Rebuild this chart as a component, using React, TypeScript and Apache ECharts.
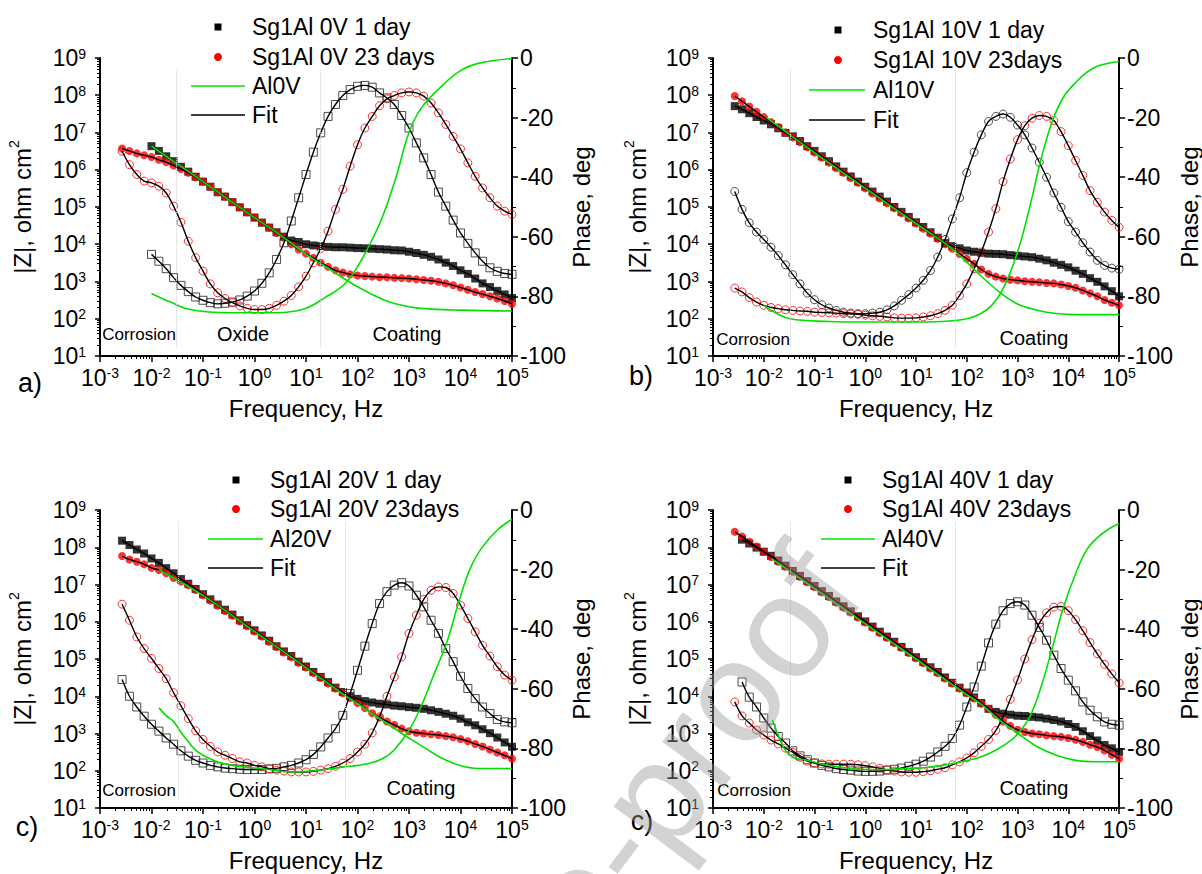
import React, { useEffect, useRef } from "react";
import * as echarts from "echarts";

// ---------------- DATA ----------------
// measured frequency grid (Hz), 7 points per decade
const FREQ = [0.00268, 0.00373, 0.00518, 0.0072, 0.01, 0.0139, 0.0193, 0.0268, 0.0373, 0.0518, 0.072,
  0.1, 0.139, 0.193, 0.268, 0.373, 0.518, 0.72, 1, 1.39, 1.93, 2.68, 3.73, 5.18, 7.2,
  10, 13.9, 19.3, 26.8, 37.3, 51.8, 72, 100, 139, 193, 268, 373, 518, 720,
  1000, 1390, 1930, 2680, 3730, 5180, 7200, 10000, 13900, 19300, 26800, 37300, 51800, 72000, 100000];

// panel a (0V) – series end at 1e5 Hz, aligned to the end of FREQ
const A_Z_1D = [4.3e6, 3.2e6, 2.3e6, 1.7e6, 1.2e6, 8.9e5, 6.5e5, 4.8e5, 3.5e5, 2.5e5, 1.9e5, 1.35e5, 9.8e4, 7.2e4, 5.2e4, 3.8e4, 2.8e4, 2.1e4, 1.6e4, 1.26e4, 1.15e4, 1.0e4, 9.3e3, 8.9e3, 8.5e3, 8.3e3, 8.3e3, 8.1e3, 7.9e3, 7.8e3, 7.6e3, 7.4e3, 7.2e3, 6.9e3, 6.8e3, 6.3e3, 5.8e3, 5.2e3, 4.6e3, 3.9e3, 3.2e3, 2.6e3, 2.0e3, 1.6e3, 1.2e3, 890, 710, 560, 450, 360];
const A_Z_23D = [3.7e6, 3.2e6, 2.75e6, 2.45e6, 2.2e6, 1.85e6, 1.6e6, 1.3e6, 1.05e6, 8.3e5, 6.3e5, 4.8e5, 3.5e5, 2.5e5, 1.9e5, 1.35e5, 9.8e4, 7.2e4, 5.2e4, 3.8e4, 2.8e4, 2.0e4, 1.5e4, 1.0e4, 7.2e3, 5.6e3, 4.3e3, 3.2e3, 2.5e3, 2.0e3, 1.75e3, 1.55e3, 1.45e3, 1.4e3, 1.35e3, 1.3e3, 1.3e3, 1.25e3, 1.23e3, 1.2e3, 1.15e3, 1.1e3, 1.05e3, 980, 890, 790, 690, 600, 520, 460, 400, 350, 300, 250];
const A_PH_1D = [-65.9, -68.2, -70.7, -73.7, -76.3, -78.4, -80.2, -81.3, -82.1, -82.5, -82.3, -81.9, -81.2, -79.9, -78.2, -75.6, -72.1, -67.6, -62.0, -54.7, -46.9, -39.1, -31.6, -25.1, -19.6, -15.6, -12.6, -10.6, -9.5, -9.2, -9.8, -11.7, -13.4, -15.6, -19.3, -23.5, -28.5, -33.5, -39.1, -45.0, -49.7, -54.4, -58.7, -62.2, -65.4, -68.2, -70.4, -71.6, -72.3, -72.6];
const A_PH_23D = [-31.3, -35.8, -39.1, -41.3, -41.9, -43.0, -45.3, -49.7, -55.1, -61.5, -67.0, -71.5, -75.8, -78.8, -80.7, -82.1, -83.2, -84.0, -84.4, -84.4, -84.0, -83.0, -81.6, -79.7, -76.8, -73.2, -68.7, -64.0, -58.1, -50.8, -44.1, -36.3, -29.1, -23.5, -19.6, -16.0, -13.7, -12.6, -11.7, -11.4, -11.7, -12.8, -15.1, -18.4, -22.3, -26.3, -30.5, -35.2, -39.7, -43.6, -46.9, -49.7, -51.4, -52.5];
const A_AL_Z_F = [0.01, 0.1, 1, 3.5, 10, 23, 100, 310, 730, 1700, 10000, 100000];
const A_AL_Z = [4.3e6, 4.8e5, 5.2e4, 1.6e4, 5.4e3, 2.6e3, 720, 330, 230, 190, 170, 162];
const A_AL_PH_F = [0.01, 0.024, 0.056, 0.32, 1.8, 4.2, 10, 23, 55, 100, 180, 310, 560, 1000, 1700, 4000, 9500, 22000, 100000];
const A_AL_PH = [-79, -82, -84.4, -85.5, -85.5, -85.3, -84, -80.5, -76, -70, -62, -53, -40, -25, -17, -10, -4.5, -1.8, -0.2];
const A_BOUNDS = [0.03, 19];

// panel b (10V)
const B_Z_1D = [5.1e7, 4.2e7, 3.3e7, 2.6e7, 2.1e7, 1.66e7, 1.3e7, 9.8e6, 7.9e6, 5.9e6, 4.3e6, 3.2e6, 2.3e6, 1.7e6, 1.23e6, 8.9e5, 6.6e5, 4.8e5, 3.5e5, 2.6e5, 1.9e5, 1.4e5, 1.0e5, 7.4e4, 5.4e4, 3.9e4, 2.9e4, 2.1e4, 1.5e4, 1.07e4, 8.9e3, 7.8e3, 6.8e3, 6.3e3, 5.9e3, 5.6e3, 5.5e3, 5.4e3, 5.1e3, 4.9e3, 4.7e3, 4.5e3, 4.1e3, 3.7e3, 3.2e3, 2.8e3, 2.4e3, 1.95e3, 1.6e3, 1.23e3, 980, 740, 550, 400];
const B_Z_23D = [9.5e7, 6.9e7, 5.0e7, 3.6e7, 2.6e7, 1.9e7, 1.4e7, 1.0e7, 7.4e6, 5.5e6, 4.0e6, 2.9e6, 2.1e6, 1.55e6, 1.1e6, 8.3e5, 6.0e5, 4.5e5, 3.2e5, 2.3e5, 1.7e5, 1.26e5, 9.3e4, 6.8e4, 4.9e4, 3.6e4, 2.6e4, 1.95e4, 1.4e4, 1.0e4, 7.6e3, 5.5e3, 4.1e3, 3.0e3, 2.1e3, 1.6e3, 1.35e3, 1.2e3, 1.12e3, 1.07e3, 1.02e3, 980, 950, 910, 890, 830, 760, 680, 575, 480, 400, 320, 270, 230];
const B_PH_1D = [-44.8, -50.8, -55.3, -58.4, -60.9, -63.5, -66.3, -69.4, -72.7, -75.8, -78.9, -81.1, -82.8, -83.9, -84.7, -85.3, -85.6, -85.8, -85.8, -85.6, -85.3, -84.5, -83.2, -81.3, -79.4, -77.2, -74.6, -71.3, -66.8, -60.9, -54.0, -46.9, -38.5, -31.6, -25.8, -21.3, -19.6, -18.8, -19.9, -22.5, -25.8, -30.2, -35.0, -40.0, -45.3, -50.1, -54.9, -58.4, -62.0, -65.1, -67.9, -69.6, -70.5, -70.9];
const B_PH_23D = [-77.2, -78.5, -80.4, -81.9, -83.0, -83.7, -84.1, -84.5, -84.7, -84.9, -85.0, -85.3, -85.4, -85.5, -85.6, -85.8, -85.9, -86.0, -86.3, -86.5, -86.7, -86.9, -87.2, -87.3, -87.3, -87.2, -86.9, -86.5, -85.8, -84.7, -83.0, -79.7, -75.8, -70.7, -65.1, -58.4, -50.6, -41.5, -33.9, -27.4, -22.7, -20.2, -19.3, -19.6, -21.0, -24.7, -29.4, -34.4, -39.4, -44.5, -48.4, -51.7, -54.5, -56.8];
const B_AL_Z_F = [0.011, 0.1, 1, 10, 50, 100, 186, 440, 1000, 2450, 5800, 14000, 100000];
const B_AL_Z = [2.6e7, 2.9e6, 3.2e5, 3.6e4, 7.8e3, 3.3e3, 1.45e3, 520, 250, 170, 138, 129, 129];
const B_AL_PH_F = [0.01, 0.033, 0.19, 1, 5.9, 33, 100, 186, 310, 520, 1000, 1740, 2900, 4900, 8100, 14000, 23000, 39000, 65000, 100000];
const B_AL_PH = [-83, -87.5, -88.4, -88.6, -88.6, -88.4, -87.5, -85.8, -83, -77.4, -65.1, -50, -34, -21, -13, -8.2, -4.8, -2.6, -1.7, -1.2];
const B_BOUNDS = [0.033, 58];

// panel c (20V)
const C_Z_1D = [1.5e8, 1.15e8, 8.7e7, 6.8e7, 5.0e7, 3.8e7, 2.75e7, 2.0e7, 1.4e7, 1.05e7, 7.6e6, 5.5e6, 4.0e6, 2.9e6, 2.1e6, 1.55e6, 1.1e6, 8.1e5, 5.9e5, 4.3e5, 3.1e5, 2.2e5, 1.6e5, 1.2e5, 8.5e4, 6.3e4, 4.5e4, 3.3e4, 2.4e4, 1.7e4, 1.3e4, 1.0e4, 8.5e3, 7.4e3, 6.8e3, 6.3e3, 6.0e3, 5.6e3, 5.4e3, 5.1e3, 4.9e3, 4.6e3, 4.2e3, 3.8e3, 3.4e3, 3.0e3, 2.5e3, 2.0e3, 1.66e3, 1.3e3, 1.02e3, 780, 575, 440];
const C_Z_23D = [5.8e7, 4.7e7, 4.1e7, 3.5e7, 2.8e7, 2.45e7, 2.0e7, 1.5e7, 1.2e7, 9.5e6, 7.1e6, 5.1e6, 3.7e6, 2.7e6, 1.95e6, 1.45e6, 1.02e6, 7.6e5, 5.5e5, 4.0e5, 2.9e5, 2.1e5, 1.5e5, 1.12e5, 7.9e4, 5.9e4, 4.2e4, 3.1e4, 2.2e4, 1.6e4, 1.2e4, 8.9e3, 6.6e3, 4.8e3, 3.5e3, 2.7e3, 2.1e3, 1.7e3, 1.35e3, 1.15e3, 1.05e3, 1.0e3, 950, 910, 850, 790, 710, 620, 525, 450, 370, 310, 260, 210];
const C_PH_1D = [-56.9, -62.5, -66.1, -69.2, -71.9, -74.2, -76.5, -78.6, -80.8, -82.6, -84.0, -84.9, -85.7, -86.2, -86.6, -86.8, -87.0, -87.1, -87.1, -87.1, -86.9, -86.7, -86.2, -85.7, -84.9, -83.8, -82.0, -79.5, -76.5, -73.4, -68.9, -61.6, -53.8, -45.7, -38.1, -31.4, -27.4, -25.2, -24.4, -25.5, -28.6, -32.5, -37.0, -41.4, -46.5, -50.9, -55.8, -59.9, -63.3, -66.1, -68.3, -70.3, -71.1, -71.4];
const C_PH_23D = [-31.6, -37.0, -42.6, -46.5, -49.8, -53.2, -56.6, -61.3, -65.7, -70.0, -74.1, -77.0, -79.3, -81.2, -82.3, -83.4, -84.5, -84.9, -85.7, -86.2, -86.8, -87.3, -87.6, -87.9, -87.9, -87.9, -87.7, -87.3, -86.8, -86.0, -84.9, -83.4, -81.2, -78.6, -74.8, -69.4, -62.5, -56.0, -49.3, -41.4, -35.3, -30.0, -26.9, -25.8, -26.0, -28.0, -31.9, -36.4, -40.9, -45.4, -49.0, -52.6, -55.4, -57.1];
const C_AL_Z_F = [0.014, 0.1, 1, 10, 50, 100, 310, 720, 1700, 4000, 9500, 22000, 100000];
const C_AL_Z = [2.5e7, 5.1e6, 5.5e5, 5.9e4, 1.2e4, 6.3e3, 2.2e3, 1.0e3, 480, 230, 140, 115, 115];
const C_AL_PH_F = [0.014, 0.019, 0.027, 0.037, 0.052, 0.072, 0.1, 0.19, 0.37, 1, 1.9, 5.2, 10, 23, 55, 100, 180, 310, 510, 1000, 1700, 3100, 5600, 9500, 16000, 27000, 52000, 100000];
const C_AL_PH = [-66.4, -68.9, -71.1, -74.5, -77.8, -80.6, -82.3, -84.5, -85.7, -86.6, -87.1, -87.9, -87.7, -87.1, -86.2, -85.7, -84.9, -83.4, -80.6, -73.9, -66.1, -54.9, -43.7, -30.2, -19.0, -12.3, -6.7, -3.1];
const C_BOUNDS = [0.033, 57];

// panel d (40V)
const D_Z_1D = [1.6e8, 1.26e8, 9.8e7, 7.6e7, 5.9e7, 4.4e7, 3.2e7, 2.3e7, 1.7e7, 1.23e7, 9.1e6, 6.6e6, 4.9e6, 3.5e6, 2.6e6, 1.9e6, 1.4e6, 1.02e6, 7.4e5, 5.4e5, 4.0e5, 2.9e5, 2.1e5, 1.55e5, 1.12e5, 8.3e4, 6.0e4, 4.5e4, 3.2e4, 2.3e4, 1.7e4, 1.26e4, 9.3e3, 6.6e3, 4.6e3, 3.8e3, 3.4e3, 3.2e3, 3.0e3, 2.95e3, 2.8e3, 2.7e3, 2.5e3, 2.3e3, 2.1e3, 1.8e3, 1.5e3, 1.15e3, 850, 650, 490, 400, 320];
const D_Z_23D = [2.6e8, 1.95e8, 1.4e8, 1.05e8, 7.6e7, 5.5e7, 4.1e7, 3.0e7, 2.2e7, 1.6e7, 1.15e7, 8.5e6, 6.2e6, 4.6e6, 3.3e6, 2.4e6, 1.8e6, 1.3e6, 9.5e5, 6.9e5, 5.0e5, 3.7e5, 2.7e5, 2.0e5, 1.45e5, 1.05e5, 7.8e4, 5.6e4, 4.2e4, 3.0e4, 2.2e4, 1.6e4, 1.2e4, 8.7e3, 6.3e3, 4.6e3, 3.2e3, 2.1e3, 1.6e3, 1.26e3, 1.1e3, 1.0e3, 950, 890, 850, 810, 760, 680, 590, 500, 430, 350, 270, 210];
const D_PH_1D = [-57.7, -62.8, -66.1, -69.8, -73.2, -76.0, -78.2, -80.8, -82.5, -83.8, -84.9, -85.7, -86.2, -86.8, -87.1, -87.3, -87.6, -87.7, -87.7, -87.6, -87.3, -87.0, -86.6, -86.0, -85.3, -84.3, -82.9, -81.2, -79.3, -76.7, -72.2, -66.1, -59.4, -52.4, -44.6, -38.3, -33.8, -31.4, -30.8, -31.9, -35.3, -39.4, -43.7, -48.7, -53.2, -57.1, -60.7, -64.4, -67.2, -69.4, -71.1, -71.9, -72.2];
const D_PH_23D = [-64.4, -69.1, -71.5, -73.8, -75.5, -77.2, -78.5, -79.9, -81.3, -83.0, -84.3, -84.9, -85.2, -85.3, -85.3, -85.3, -85.3, -85.5, -85.8, -86.2, -86.7, -87.2, -87.6, -87.9, -88.0, -88.0, -87.8, -87.5, -87.0, -86.5, -85.5, -84.5, -83.2, -81.5, -79.3, -77.0, -74.0, -69.5, -63.5, -57.0, -50.0, -43.5, -38.0, -34.5, -32.6, -32.4, -33.8, -36.8, -40.5, -44.5, -48.3, -51.8, -55.0, -58.0];
const D_AL_Z_F = [0.014, 0.1, 1, 10, 100, 186, 440, 1020, 2450, 5800, 14000, 32000, 100000];
const D_AL_Z = [5.0e7, 7.9e6, 8.9e5, 1.0e5, 1.1e4, 6.3e3, 2.3e3, 1.0e3, 440, 260, 190, 175, 175];
const D_AL_PH_F = [0.0148, 0.02, 0.025, 0.036, 0.068, 0.17, 1, 2.5, 5.9, 14, 33, 78, 186, 370, 740, 1020, 1740, 2900, 4900, 8100, 14000, 23000, 39000, 65000, 100000];
const D_AL_PH = [-70.5, -76.2, -79.9, -82.9, -83.9, -85.5, -87.1, -87.1, -86.8, -86.5, -85.7, -84.5, -82.9, -80.6, -77.3, -75.0, -69.4, -59.4, -45.9, -32.5, -21.3, -13.4, -9.0, -6.2, -4.5];
const D_BOUNDS = [0.034, 58];

// texts
const LEGEND_A = ["Sg1Al 0V 1 day", "Sg1Al 0V 23 days", "Al0V", "Fit"];
const LEGEND_B = ["Sg1Al 10V 1 day", "Sg1Al 10V 23days", "Al10V", "Fit"];
const LEGEND_C = ["Sg1Al 20V 1 day", "Sg1Al 20V 23days", "Al20V", "Fit"];
const LEGEND_D = ["Sg1Al 40V 1 day", "Sg1Al 40V 23days", "Al40V", "Fit"];
const PANEL_LABELS = ["a)", "b)", "c)", "c)"];
const REGION_LABELS = ["Corrosion", "Oxide", "Coating"];
const X_NAME = "Frequency, Hz";
const Y_NAME = "|Z|, ohm cm{s|2}";
const Y2_NAME = "Phase, deg";
const WATERMARK = "Journal Pre-proof";

const PANELS = [
  { z1: A_Z_1D, z23: A_Z_23D, p1: A_PH_1D, p23: A_PH_23D, alZF: A_AL_Z_F, alZ: A_AL_Z, alPF: A_AL_PH_F, alP: A_AL_PH, bounds: A_BOUNDS, legend: LEGEND_A, phaseSym: "rect" },
  { z1: B_Z_1D, z23: B_Z_23D, p1: B_PH_1D, p23: B_PH_23D, alZF: B_AL_Z_F, alZ: B_AL_Z, alPF: B_AL_PH_F, alP: B_AL_PH, bounds: B_BOUNDS, legend: LEGEND_B, phaseSym: "circle" },
  { z1: C_Z_1D, z23: C_Z_23D, p1: C_PH_1D, p23: C_PH_23D, alZF: C_AL_Z_F, alZ: C_AL_Z, alPF: C_AL_PH_F, alP: C_AL_PH, bounds: C_BOUNDS, legend: LEGEND_C, phaseSym: "rect" },
  { z1: D_Z_1D, z23: D_Z_23D, p1: D_PH_1D, p23: D_PH_23D, alZF: D_AL_Z_F, alZ: D_AL_Z, alPF: D_AL_PH_F, alP: D_AL_PH, bounds: D_BOUNDS, legend: LEGEND_D, phaseSym: "rect" },
];

// ---------------- LAYOUT ----------------
const LAYOUT = [
  { grid: { left: 100, top: 58, width: 412, height: 298 }, leg: { sx: 218, lx1: 191, lx2: 245, tx: 252, rows: [27, 57, 86, 115] }, lab: [30, 383], reg: [[139, 334], [243, 334], [407, 334]], yGap: 63, y2Gap: 42 },
  { grid: { left: 713, top: 58, width: 410, height: 298 }, leg: { sx: 838, lx1: 809, lx2: 865, tx: 873, rows: [30, 60, 90, 120] }, lab: [641, 376], reg: [[753, 339], [868, 339], [1034, 338]], yGap: 61, y2Gap: 47 },
  { grid: { left: 100, top: 510, width: 412, height: 298 }, leg: { sx: 236, lx1: 208, lx2: 263, tx: 270, rows: [480, 509, 539, 568] }, lab: [27, 827], reg: [[139, 790], [255, 790], [421, 788]], yGap: 63, y2Gap: 42 },
  { grid: { left: 713, top: 510, width: 410, height: 298 }, leg: { sx: 848, lx1: 821, lx2: 875, tx: 882, rows: [480, 509, 539, 568] }, lab: [642, 821], reg: [[754, 790], [868, 790], [1034, 788]], yGap: 61, y2Gap: 47 },
];

const FONT = "'Liberation Sans', Arial, Helvetica, sans-serif";
const GREEN = "#00e000";
const RED = "#ff0000";

const tail = (vals: number[]) => vals.map((v, j) => [FREQ[FREQ.length - vals.length + j], v]);
const zip = (f: number[], v: number[]) => f.map((x, j) => [x, v[j]]);
const expLabel = (v: number) => `{b|10}{s|${Math.round(Math.log10(v))}}`;
const EXP_RICH = {
  b: { fontSize: 23, lineHeight: 23, verticalAlign: "bottom", fontFamily: FONT, color: "#000" },
  s: { fontSize: 14, lineHeight: 14, padding: [0, 0, 14.5, 0], verticalAlign: "top", fontFamily: FONT, color: "#000" },
};

function buildOption() {
  const grid: any[] = [];
  const xAxis: any[] = [];
  const yAxis: any[] = [];
  const series: any[] = [];
  const graphic: any[] = [];

  PANELS.forEach((p, k) => {
    const L = LAYOUT[k];
    grid.push({ ...L.grid, containLabel: false });
    xAxis.push({
      type: "log", logBase: 10, gridIndex: k, min: 0.001, max: 1e5, splitNumber: 8,
      splitLine: { show: false },
      axisLine: { onZero: false, lineStyle: { color: "#000", width: 2 } },
      axisTick: { show: true, length: 6, lineStyle: { color: "#000", width: 1.5 } },
      minorTick: { show: true, splitNumber: 9, length: 3, lineStyle: { color: "#000", width: 1 } },
      axisLabel: { formatter: expLabel, margin: 10, color: "#000", showMinLabel: true, showMaxLabel: true, rich: EXP_RICH },
      name: X_NAME, nameLocation: "middle", nameGap: 40,
      nameTextStyle: { fontSize: 24, color: "#000", fontFamily: FONT },
    });
    yAxis.push({
      type: "log", logBase: 10, gridIndex: k, min: 10, max: 1e9, splitNumber: 8, position: "left",
      splitLine: { show: false },
      axisLine: { show: true, onZero: false, lineStyle: { color: "#000", width: 2 } },
      axisTick: { show: true, length: 5, lineStyle: { color: "#000", width: 1.5 } },
      minorTick: { show: true, splitNumber: 9, length: 3, lineStyle: { color: "#000", width: 1 } },
      axisLabel: { formatter: expLabel, margin: 14, color: "#000", showMinLabel: true, showMaxLabel: true, hideOverlap: false, rich: EXP_RICH },
      name: Y_NAME, nameLocation: "middle", nameRotate: 90, nameGap: L.yGap,
      nameTextStyle: {
        fontSize: 24, lineHeight: 30, color: "#000", fontFamily: FONT,
        rich: { s: { fontSize: 14, lineHeight: 14, verticalAlign: "top", fontFamily: FONT, color: "#000" } },
      },
    });
    yAxis.push({
      type: "value", gridIndex: k, min: -100, max: 0, interval: 20, position: "right",
      splitLine: { show: false },
      axisLine: { show: true, onZero: false, lineStyle: { color: "#000", width: 2 } },
      axisTick: { show: true, length: 6, lineStyle: { color: "#000", width: 1.5 } },
      minorTick: { show: true, splitNumber: 2, length: 4, lineStyle: { color: "#000", width: 1 } },
      axisLabel: { fontSize: 23, color: "#000", fontFamily: FONT, margin: 8, showMinLabel: true, showMaxLabel: true },
      name: Y2_NAME, nameLocation: "middle", nameRotate: 90, nameGap: L.y2Gap,
      nameTextStyle: { fontSize: 24, color: "#000", fontFamily: FONT },
    });

    const yz = 2 * k;
    const yp = 2 * k + 1;
    const base = { xAxisIndex: k, silent: true };
    const fit = (data: any[], yIdx: number) => ({
      ...base, type: "line", yAxisIndex: yIdx, data, symbol: "none", showSymbol: false, smooth: 0.3,
      lineStyle: { color: "#000", width: 1.4 }, z: 3,
    });
    series.push(
      { ...base, type: "scatter", yAxisIndex: yz, data: tail(p.z1), symbol: "rect", symbolSize: 8, itemStyle: { color: "#000" }, z: 2 },
      { ...base, type: "scatter", yAxisIndex: yz, data: tail(p.z23), symbol: "circle", symbolSize: 8, itemStyle: { color: RED }, z: 2 },
      {
        ...base, type: "scatter", yAxisIndex: yp, data: tail(p.p1), symbol: p.phaseSym, symbolSize: 8,
        itemStyle: { color: "rgba(0,0,0,0)", borderColor: "#222", borderWidth: 1 }, z: 2,
        markLine: {
          silent: true, symbol: ["none", "none"], label: { show: false },
          lineStyle: { color: "#cfcfcf", type: "dotted", width: 1 },
          data: p.bounds.map((b) => [{ coord: [b, -4] }, { coord: [b, -97] }]),
        },
      },
      { ...base, type: "scatter", yAxisIndex: yp, data: tail(p.p23), symbol: "circle", symbolSize: 8, itemStyle: { color: "rgba(0,0,0,0)", borderColor: RED, borderWidth: 1 }, z: 2 },
      fit(tail(p.z1), yz),
      fit(tail(p.z23), yz),
      fit(tail(p.p1), yp),
      fit(tail(p.p23), yp),
      { ...base, type: "line", yAxisIndex: yz, data: zip(p.alZF, p.alZ), symbol: "none", showSymbol: false, smooth: 0.4, lineStyle: { color: GREEN, width: 1.6 }, z: 4 },
      { ...base, type: "line", yAxisIndex: yp, data: zip(p.alPF, p.alP), symbol: "none", showSymbol: false, smooth: 0.4, lineStyle: { color: GREEN, width: 1.6 }, z: 4 },
    );

    // legend
    const g = L.leg;
    const r = g.rows;
    graphic.push(
      { type: "rect", z: 10, shape: { x: g.sx - 3.5, y: r[0] - 3.5, width: 7, height: 7 }, style: { fill: "#000" } },
      { type: "circle", z: 10, shape: { cx: g.sx, cy: r[1], r: 4 }, style: { fill: RED } },
      { type: "line", z: 10, shape: { x1: g.lx1, y1: r[2], x2: g.lx2, y2: r[2] }, style: { stroke: GREEN, lineWidth: 1.6 } },
      { type: "line", z: 10, shape: { x1: g.lx1, y1: r[3], x2: g.lx2, y2: r[3] }, style: { stroke: "#000", lineWidth: 1.5 } },
    );
    p.legend.forEach((t, j) => {
      graphic.push({
        type: "text", z: 10, x: g.tx, y: r[j],
        style: { text: t, fontSize: 23, fontFamily: FONT, fill: "#000", align: "left", verticalAlign: "middle", textAlign: "left", textVerticalAlign: "middle" },
      });
    });
    // region labels
    REGION_LABELS.forEach((t, j) => {
      graphic.push({
        type: "text", z: 10, x: L.reg[j][0], y: L.reg[j][1],
        style: { text: t, fontSize: j === 0 ? 17 : 20, fontFamily: FONT, fill: "#000", align: "center", verticalAlign: "middle", textAlign: "center", textVerticalAlign: "middle" },
      });
    });
    // panel label
    graphic.push({
      type: "text", z: 10, x: L.lab[0], y: L.lab[1],
      style: { text: PANEL_LABELS[k], fontSize: 27, fontFamily: FONT, fill: "#000", align: "center", verticalAlign: "middle", textAlign: "center", textVerticalAlign: "middle" },
    });
  });

  graphic.push({
    type: "text", z: 100, x: 828, y: 566, rotation: (53 * Math.PI) / 180, silent: true,
    style: { text: WATERMARK, fontSize: 145, fontFamily: FONT, fill: "rgba(150,150,150,0.42)", align: "right", verticalAlign: "middle", textAlign: "right", textVerticalAlign: "middle" },
  });

  return {
    animation: false,
    backgroundColor: "#fff",
    textStyle: { fontFamily: FONT },
    grid, xAxis, yAxis, series, graphic,
  };
}

export default function App() {
  const ref = useRef<HTMLDivElement>(null);
  useEffect(() => {
    if (!ref.current) return;
    const chart = echarts.init(ref.current, undefined, { renderer: "svg" });
    chart.setOption(buildOption() as any);
    return () => chart.dispose();
  }, []);
  return <div ref={ref} style={{ position: "absolute", left: 0, top: 0, width: 1202, height: 874 }} />;
}
